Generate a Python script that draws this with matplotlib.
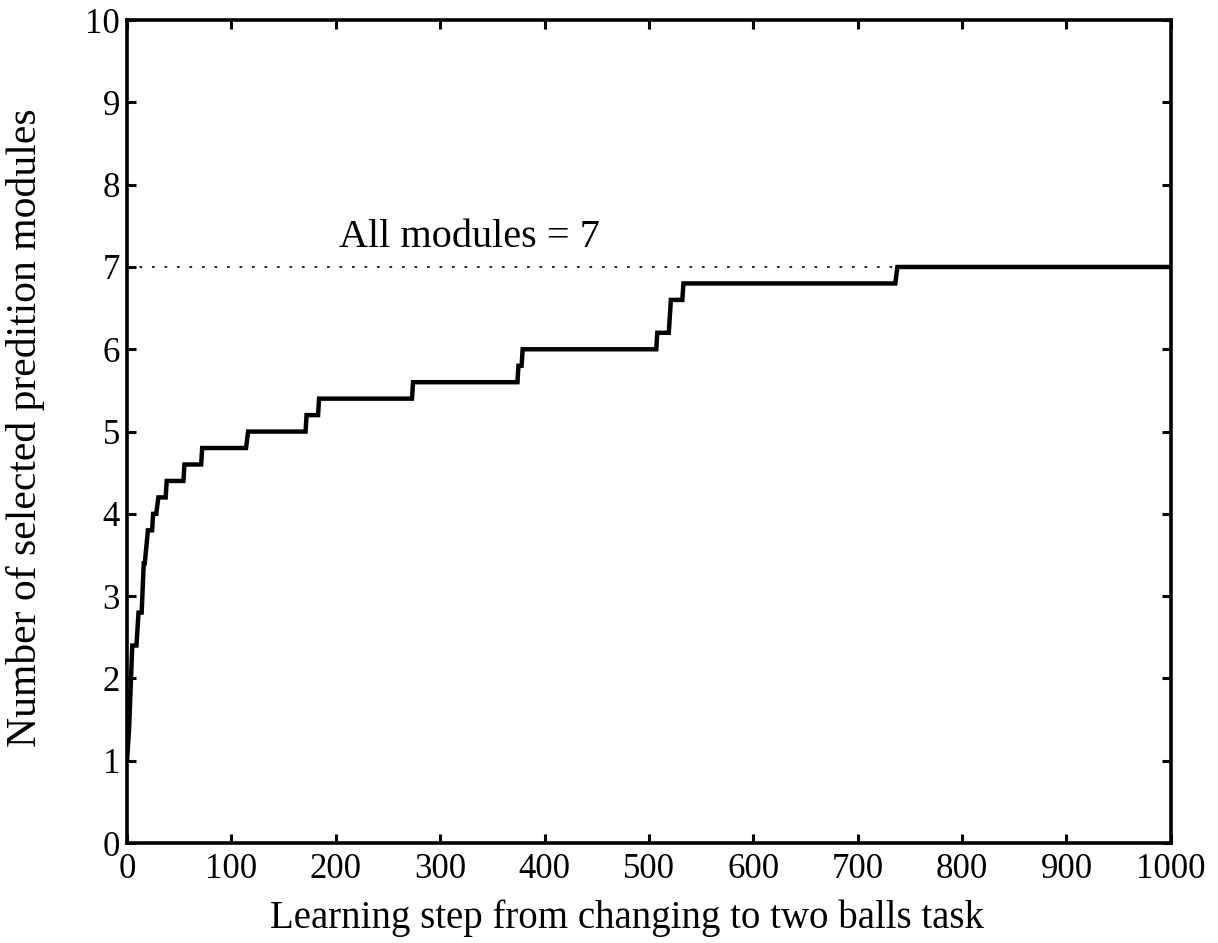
import numpy as np
import matplotlib
matplotlib.use("Agg")
import matplotlib.pyplot as plt

plt.rcParams['font.family'] = ['Liberation Serif', 'DejaVu Serif']

# averaged number of selected modules, vertices of the step curve
steps = [0, 2, 5, 9, 11, 14, 16, 17, 20, 24, 25, 28, 30, 37, 38, 54, 55, 71, 72,
         114, 116, 171, 172, 183, 184, 273, 274, 374, 375, 378, 379, 507, 508,
         519, 521, 532, 533, 736, 738, 1000]
modules = [1.0, 1.4, 2.4, 2.4, 2.8, 2.8, 3.4, 3.4, 3.8, 3.8, 4.0, 4.0, 4.2, 4.2,
           4.4, 4.4, 4.6, 4.6, 4.8, 4.8, 5.0, 5.0, 5.2, 5.2, 5.4, 5.4, 5.6, 5.6,
           5.8, 5.8, 6.0, 6.0, 6.2, 6.2, 6.6, 6.6, 6.8, 6.8, 7.0, 7.0]
all_modules = 7
xticks = np.arange(0, 1001, 100)
yticks = np.arange(0, 11, 1)

fig = plt.figure(figsize=(12.18, 9.43), dpi=100)
ax = fig.add_axes([0.1043, 0.106, 0.857, 0.8727])

ax.plot([0, 738], [all_modules, all_modules], color='k', lw=1.2,
        dashes=(1.6, 5.9))
ax.plot(steps, modules, color='k', lw=3.2, solid_joinstyle='miter')
ax.text(203, 7.245, 'All modules = %d' % all_modules, fontsize=29)

ax.set_xlim(0, 1000)
ax.set_ylim(0, 10)
ax.set_xticks(xticks)
ax.set_yticks(yticks)
ax.tick_params(direction='in', top=True, right=True, length=6.5, width=2.2,
               labelsize=25)
ax.tick_params(axis='x', pad=7)
ax.tick_params(axis='y', pad=5)
for s in ax.spines.values():
    s.set_linewidth(2.6)

ax.set_xlabel('Learning step from changing to two balls task', fontsize=28)
ax.set_ylabel('Number of selected predition modules', fontsize=30)
ax.xaxis.set_label_coords(0.479, -0.068)
ax.yaxis.set_label_coords(-0.0785, 0.505)

fig.savefig('out.png', dpi=100)
